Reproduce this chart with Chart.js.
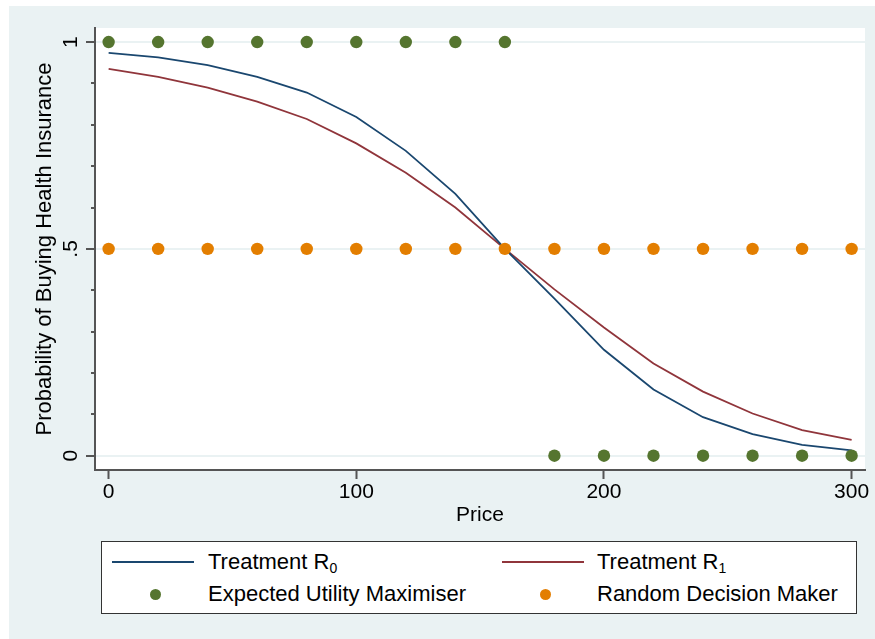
<!DOCTYPE html>
<html>
<head>
<meta charset="utf-8">
<script src="https://cdn.jsdelivr.net/npm/chart.js@4.4.1/dist/chart.umd.min.js"></script>
<style>
  html, body { margin: 0; padding: 0; background: #fff; }
  #wrap { position: relative; width: 875px; height: 639px; overflow: hidden; }
  #bg { position: absolute; left: 9px; top: 6px; right: 0; bottom: 0; background: #eaf2f3; }
  #chart { position: absolute; left: 0; top: 0; }
  #legend {
    position: absolute; left: 101px; top: 541px; width: 754px; height: 71px;
    background: #fff; border: 1px solid #333;
  }
  .lab {
    position: absolute; font-family: "Liberation Sans", Arial, sans-serif;
    font-size: 22px; line-height: 24px; color: #000; white-space: nowrap;
  }
  .lab span { font-size: 14px; position: relative; top: 4px; }
  .swatch { position: absolute; height: 2px; }
  .dot { position: absolute; width: 11px; height: 11px; border-radius: 50%; }
</style>
</head>
<body>
<div id="wrap">
  <div id="bg"></div>
  <canvas id="chart" width="875" height="639"></canvas>
  <div id="legend"></div>
</div>
<script>
const prices = [0, 20, 40, 60, 80, 100, 120, 140, 160, 180, 200, 220, 240, 260, 280, 300];
const treatmentR0 = [0.974, 0.963, 0.944, 0.916, 0.878, 0.819, 0.737, 0.633, 0.5, 0.380, 0.256, 0.160, 0.093, 0.052, 0.026, 0.013];
const treatmentR1 = [0.935, 0.916, 0.890, 0.856, 0.814, 0.755, 0.684, 0.600, 0.5, 0.402, 0.310, 0.223, 0.155, 0.102, 0.062, 0.038];
const expectedUtility = [1, 1, 1, 1, 1, 1, 1, 1, 1, 0, 0, 0, 0, 0, 0, 0];
const randomDecision = [0.5, 0.5, 0.5, 0.5, 0.5, 0.5, 0.5, 0.5, 0.5, 0.5, 0.5, 0.5, 0.5, 0.5, 0.5, 0.5];

const xTicks = [0, 100, 200, 300];
const yTicks = [0, 0.1, 0.2, 0.3, 0.4, 0.5, 0.6, 0.7, 0.8, 0.9, 1];
const yMajor = [0, 0.5, 1];
const yMajorLabels = ["0", ".5", "1"];

const font = "'Liberation Sans', Arial, sans-serif";
const axisColor = "#555";
const bgColor = "#eaf2f3";

const pts = (ys) => prices.map((x, i) => ({ x: x, y: ys[i] }));
const isMajor = (v) => yMajor.some((m) => Math.abs(m - v) < 1e-9);

const datasets = [
    { label: "Treatment R<span>0</span>", data: pts(treatmentR0), borderColor: "#1a476f", kind: "line" },
    { label: "Treatment R<span>1</span>", data: pts(treatmentR1), borderColor: "#90353b", kind: "line" },
    { label: "Expected Utility Maximiser", data: pts(expectedUtility), backgroundColor: "#55752f", kind: "dot" },
    { label: "Random Decision Maker", data: pts(randomDecision), backgroundColor: "#e37e00", kind: "dot" },
].map((d) => d.kind === "line"
    ? Object.assign(d, { borderWidth: 1.8, pointRadius: 0, tension: 0, fill: false, order: 1 })
    : Object.assign(d, { showLine: false, pointRadius: 6.2, pointBorderWidth: 0, pointBackgroundColor: d.backgroundColor, order: 0 }));

const plotBackground = {
    id: "plotBackground",
    beforeDraw(chart) {
        const { ctx, chartArea: a } = chart;
        ctx.save();
        ctx.fillStyle = "#fff";
        ctx.fillRect(a.left, a.top, a.right - a.left, a.bottom - a.top);
        ctx.restore();
    },
};

// Stata-style y axis: vertical labels, long major ticks, short minor ticks
const yAxisTicks = {
    id: "yAxisTicks",
    afterDraw(chart) {
        const { ctx, chartArea: a } = chart;
        const y = chart.scales.y;
        ctx.save();
        ctx.strokeStyle = axisColor;
        ctx.lineWidth = 2;
        ctx.fillStyle = "#000";
        ctx.font = "21px " + font;
        yTicks.forEach((v) => {
            const py = Math.round(y.getPixelForValue(v));
            const len = isMajor(v) ? 9 : 4;
            ctx.beginPath();
            ctx.moveTo(a.left - len, py);
            ctx.lineTo(a.left, py);
            ctx.stroke();
        });
        yMajor.forEach((v, i) => {
            ctx.save();
            ctx.translate(a.left - 18, y.getPixelForValue(v));
            ctx.rotate(-Math.PI / 2);
            ctx.textAlign = "center";
            ctx.textBaseline = "alphabetic";
            ctx.fillText(yMajorLabels[i], 0, 0);
            ctx.restore();
        });
        ctx.restore();
    },
};

const ctx = document.getElementById("chart").getContext("2d");
const chart = new Chart(ctx, {
    type: "line",
    data: { datasets: datasets },
    plugins: [plotBackground, yAxisTicks],
    options: {
        responsive: false,
        animation: false,
        layout: { padding: { left: 0, top: 28, right: 10, bottom: 109 } },
        plugins: { legend: { display: false }, tooltip: { enabled: false } },
        scales: {
            x: {
                type: "linear",
                min: -5.5,
                max: 305.4,
                afterBuildTicks: (s) => { s.ticks = xTicks.map((v) => ({ value: v })); },
                afterFit: (s) => { s.height = 60; },
                grid: { drawOnChartArea: false, drawTicks: true, tickLength: 9, tickColor: axisColor, tickWidth: 2 },
                border: { color: axisColor, width: 2 },
                ticks: { font: { family: font, size: 21 }, color: "#000", padding: 1, maxRotation: 0 },
                title: { display: true, text: "Price", color: "#000", font: { family: font, size: 21 }, padding: { top: 0, bottom: 2 } },
            },
            y: {
                type: "linear",
                min: -0.0346,
                max: 1.034,
                afterBuildTicks: (s) => { s.ticks = yTicks.map((v) => ({ value: v })); },
                afterFit: (s) => { s.width = 95; },
                grid: {
                    color: (c) => (c.tick && isMajor(c.tick.value) ? bgColor : "rgba(0,0,0,0)"),
                    lineWidth: 2,
                    drawTicks: false,
                },
                border: { color: axisColor, width: 2 },
                ticks: { display: false },
                title: {
                    display: true,
                    text: "Probability of Buying Health Insurance",
                    color: "#000",
                    font: { family: font, size: 22 },
                    padding: { top: 32, bottom: 0 },
                },
            },
        },
    },
});

// legend: two columns, drawn from the dataset list
const legend = document.getElementById("legend");
const colLeft = [112, 502];
const labelLeft = [208, 597];
const rowMid = [562, 593];
const rowBase = [550, 582];
datasets.forEach((d, i) => {
    const col = i % 2, row = Math.floor(i / 2);
    if (d.kind === "line") {
        const s = document.createElement("div");
        s.className = "swatch";
        s.style.left = (colLeft[col] - 102) + "px";
        s.style.width = "82px";
        s.style.top = (rowMid[row] - 542 - 1) + "px";
        s.style.background = d.borderColor;
        legend.appendChild(s);
    } else {
        const s = document.createElement("div");
        s.className = "dot";
        s.style.left = (colLeft[col] + 43 - 5.5 - 102) + "px";
        s.style.top = (rowMid[row] - 542 - 5.5 + 1) + "px";
        s.style.background = d.backgroundColor;
        legend.appendChild(s);
    }
    const l = document.createElement("div");
    l.className = "lab";
    l.style.left = (labelLeft[col] - 102) + "px";
    l.style.top = (rowBase[row] - 542) + "px";
    l.innerHTML = d.label;
    legend.appendChild(l);
});
</script>
</body>
</html>
